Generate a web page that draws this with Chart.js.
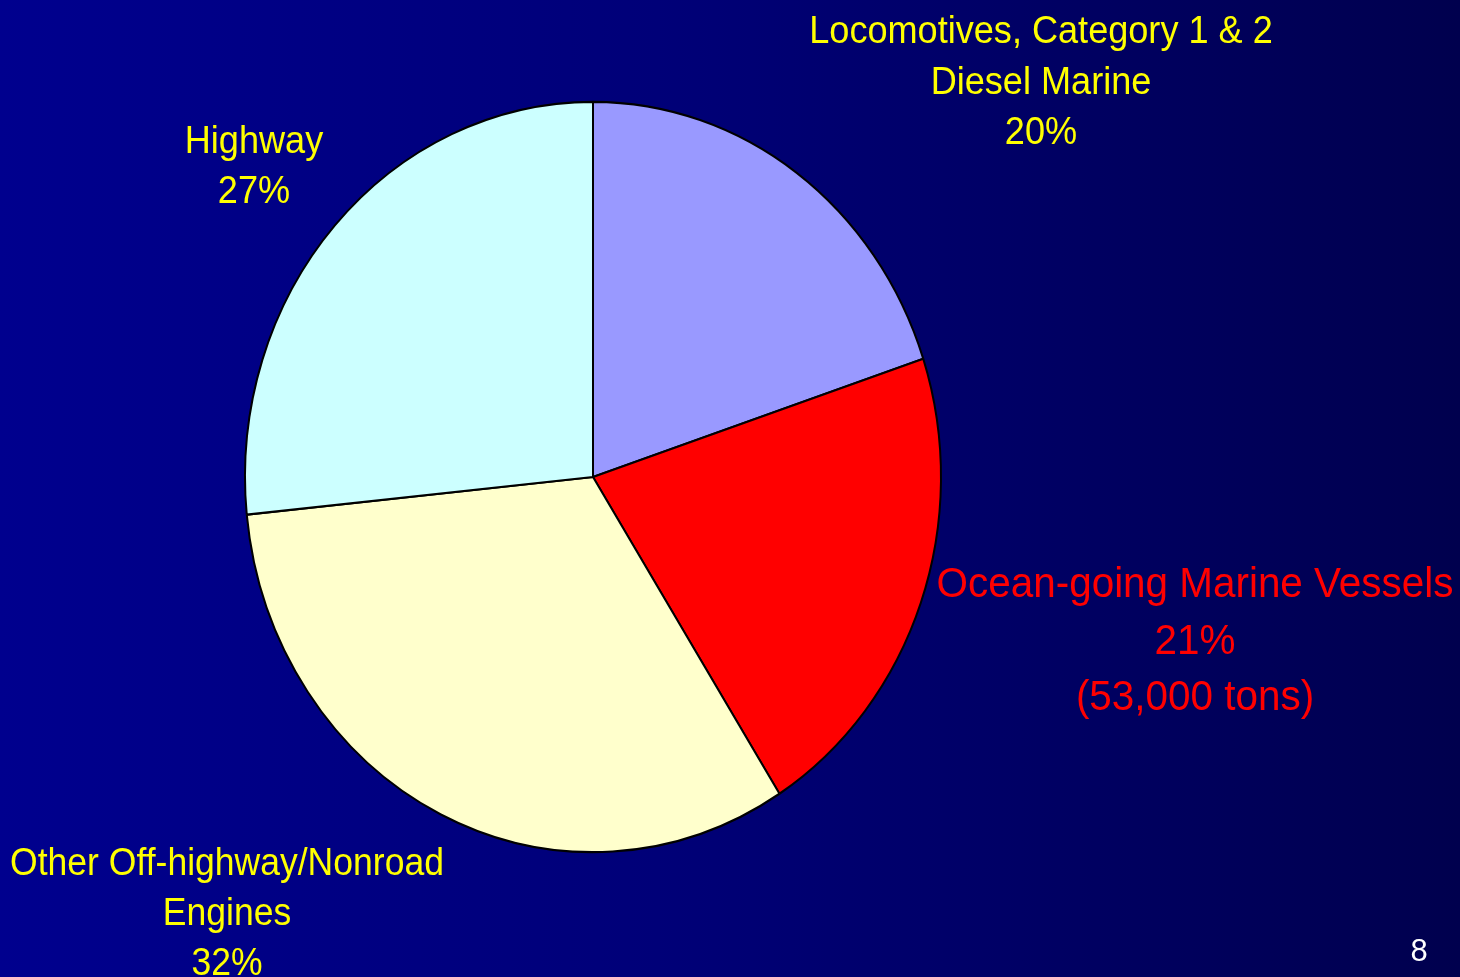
<!DOCTYPE html>
<html>
<head>
<meta charset="utf-8">
<script src="https://cdn.jsdelivr.net/npm/chart.js@4.4.0/dist/chart.umd.min.js"></script>
<style>
  html, body { margin: 0; padding: 0; }
  body {
    width: 1460px; height: 977px; overflow: hidden;
    background: linear-gradient(to right, #00008e 0%, #000078 45%, #00004e 100%);
  }
  #wrap { position: absolute; left: 0; top: 0; width: 1460px; height: 977px; }
</style>
</head>
<body>
<div id="wrap"><canvas id="pie"></canvas></div>
<script>
// slices, clockwise from 12 o'clock
const categories = [
  'Locomotives, Category 1 & 2 Diesel Marine',
  'Ocean-going Marine Vessels',
  'Other Off-highway/Nonroad Engines',
  'Highway'
];
const shares = [19.9, 21.1, 32.4, 26.6];
const sliceColors = ['#9999ff', '#ff0000', '#ffffcc', '#ccffff'];

// label text for each slice (lines)
const labelLines = [
  ['Locomotives, Category 1 & 2', 'Diesel Marine', '20%'],
  ['Ocean-going Marine Vessels', '21%', '(53,000 tons)'],
  ['Other Off-highway/Nonroad', 'Engines', '32%'],
  ['Highway', '27%']
];
const labelColors = ['#ffff00', '#ff0000', '#ffff00', '#ffff00'];

// where each label block goes: centre x, first baseline, line step, font size, squeeze
const labelLayout = [
  { x: 1041, y: 43, step: 50.5, size: 38, sx: 0.95 },
  { x: 1195, y: 597, step: 56.5, size: 43, sx: 0.94 },
  { x: 227, y: 875, step: 50, size: 38, sx: 0.935 },
  { x: 254, y: 153, step: 50, size: 38, sx: 0.95 }
];

const yStretch = 1.078; // the original pie is a little taller than wide

function squeezedText(ctx, txt, x, y, sx) {
  ctx.save();
  ctx.translate(x, y);
  ctx.scale(sx, 1);
  ctx.fillText(txt, 0, 0);
  ctx.restore();
}

const stretchPlugin = {
  id: 'stretch',
  beforeDatasetsDraw(chart) {
    const arc = chart.getDatasetMeta(0).data[0];
    const ctx = chart.ctx;
    ctx.save();
    ctx.translate(arc.x, arc.y);
    ctx.scale(1, yStretch);
    ctx.translate(-arc.x, -arc.y);
  },
  afterDatasetsDraw(chart) {
    chart.ctx.restore();
  }
};

const labelPlugin = {
  id: 'sliceLabels',
  afterDraw(chart) {
    const ctx = chart.ctx;
    ctx.save();
    ctx.textAlign = 'center';
    ctx.textBaseline = 'alphabetic';
    labelLines.forEach((lines, i) => {
      const L = labelLayout[i];
      ctx.fillStyle = labelColors[i];
      ctx.font = L.size + 'px "Liberation Sans", Arial, sans-serif';
      lines.forEach((t, j) => squeezedText(ctx, t, L.x, L.y + j * L.step, L.sx));
    });
    // slide number
    ctx.fillStyle = '#ffffff';
    ctx.font = '31px "Liberation Sans", Arial, sans-serif';
    ctx.fillText('8', 1419, 961);
    ctx.restore();
  }
};

const ctx_pie = document.getElementById('pie');

new Chart(ctx_pie, {
  type: 'pie',
  data: {
    labels: categories,
    datasets: [{
      data: shares,
      backgroundColor: sliceColors,
      borderColor: '#000000',
      borderWidth: 2,
      hoverOffset: 0
    }]
  },
  options: {
    responsive: true,
    maintainAspectRatio: false,
    animation: false,
    events: [],
    layout: {
      padding: { left: 244, right: 518, top: 128, bottom: 151 }
    },
    plugins: {
      legend: { display: false },
      tooltip: { enabled: false }
    }
  },
  plugins: [stretchPlugin, labelPlugin]
});
</script>
</body>
</html>
